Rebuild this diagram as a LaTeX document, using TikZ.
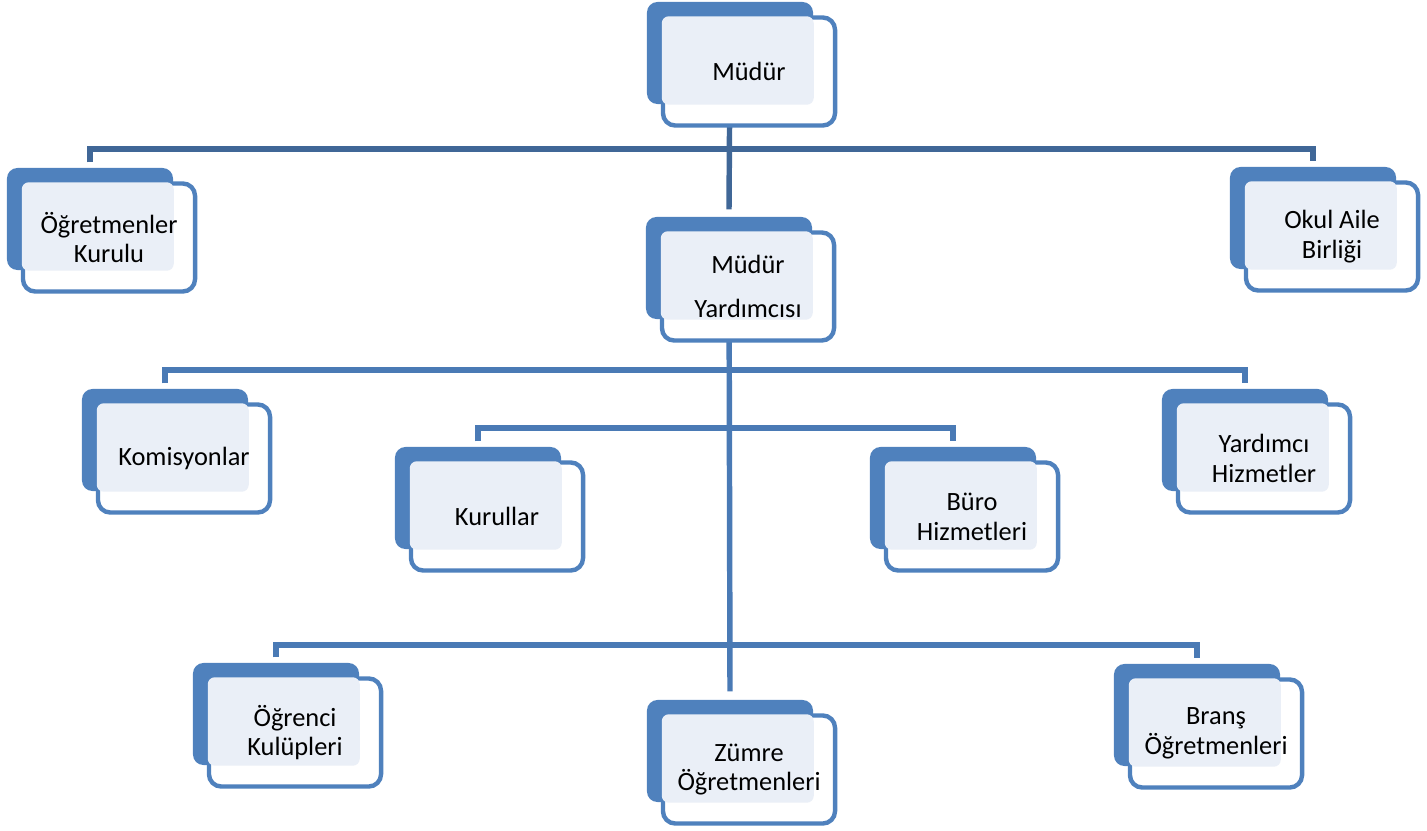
\documentclass[tikz,border=0pt]{standalone}
\usepackage{fontspec}
\setmainfont{Carlito}
\usetikzlibrary{calc}
\usetikzlibrary{positioning}
\usetikzlibrary{backgrounds}
\definecolor{boxblue}{RGB}{79, 129, 189}
\definecolor{lightfill}{RGB}{234, 239, 247}
\definecolor{topblue}{RGB}{64, 103, 151}
\definecolor{lowblue}{RGB}{74, 122, 181}

\tikzset{
  backbox/.style={fill=boxblue, rounded corners=3pt, minimum width=1.66cm,
                  minimum height=1.02cm, inner sep=0pt},
  frontbox/.style={draw=boxblue, fill=white, line width=1.25pt, rounded corners=3.5pt,
                   minimum width=1.72cm, minimum height=1.08cm, inner sep=0pt},
  boxtext/.style={align=center, font=\fontsize{7.5}{8.5}\selectfont, inner sep=0pt},
  topwire/.style={draw=topblue, line width=1.55pt},
  lowwire/.style={draw=lowblue, line width=1.55pt}
}

\begin{document}
\begin{tikzpicture}[x=0.01cm, y=-0.01cm]

        \useasboundingbox (0,0) rectangle (1427,830);

        % top level
        \node[backbox] (mudurB) at (730, 53) {};
        \node[frontbox] (mudur) at ($(mudurB.center)+(19,18.5)$) {};
        \fill[lightfill, rounded corners=2pt] ($(mudur.north west)+(1,1)$) rectangle (mudurB.south east);
        \node[boxtext] (mudurT) at (mudur.center) {Müdür};

        \node[backbox] (ogretB) at (90, 219) {};
        \node[frontbox] (ogret) at ($(ogretB.center)+(19,18.5)$) {};
        \fill[lightfill, rounded corners=2pt] ($(ogret.north west)+(1,1)$) rectangle (ogretB.south east);
        \node[boxtext] (ogretT) at (ogret.center) {Öğretmenler\\Kurulu};

        \node[backbox] (okulB) at (1313, 218) {};
        \node[frontbox] (okul) at ($(okulB.center)+(19,18.5)$) {};
        \fill[lightfill, rounded corners=2pt] ($(okul.north west)+(1,1)$) rectangle (okulB.south east);
        \node[boxtext] (okulT) at (okul.center) {Okul Aile\\Birliği};

        \node[backbox] (yardB) at (729, 268) {};
        \node[frontbox] (yard) at ($(yardB.center)+(19,18.5)$) {};
        \fill[lightfill, rounded corners=2pt] ($(yard.north west)+(1,1)$) rectangle (yardB.south east);
        \node[boxtext] (yardT) at (yard.center) {Müdür\\[4pt]Yardımcısı};

        % middle level
        \node[backbox] (komisB) at (165, 440) {};
        \node[frontbox] (komis) at ($(komisB.center)+(19,18.5)$) {};
        \fill[lightfill, rounded corners=2pt] ($(komis.north west)+(1,1)$) rectangle (komisB.south east);
        \node[boxtext] (komisT) at (komis.center) {Komisyonlar};

        \node[backbox] (kurulB) at (478, 498) {};
        \node[frontbox] (kurul) at ($(kurulB.center)+(19,18.5)$) {};
        \fill[lightfill, rounded corners=2pt] ($(kurul.north west)+(1,1)$) rectangle (kurulB.south east);
        \node[boxtext] (kurulT) at (kurul.center) {Kurullar};

        \node[backbox] (buroB) at (953, 498) {};
        \node[frontbox] (buro) at ($(buroB.center)+(19,18.5)$) {};
        \fill[lightfill, rounded corners=2pt] ($(buro.north west)+(1,1)$) rectangle (buroB.south east);
        \node[boxtext] (buroT) at (buro.center) {Büro\\Hizmetleri};

        \node[backbox] (yhizB) at (1245, 440) {};
        \node[frontbox] (yhiz) at ($(yhizB.center)+(19,18.5)$) {};
        \fill[lightfill, rounded corners=2pt] ($(yhiz.north west)+(1,1)$) rectangle (yhizB.south east);
        \node[boxtext] (yhizT) at (yhiz.center) {Yardımcı\\Hizmetler};

        % bottom level
        \node[backbox] (kulupB) at (276, 714) {};
        \node[frontbox] (kulup) at ($(kulupB.center)+(19,18.5)$) {};
        \fill[lightfill, rounded corners=2pt] ($(kulup.north west)+(1,1)$) rectangle (kulupB.south east);
        \node[boxtext] (kulupT) at (kulup.center) {Öğrenci\\Kulüpleri};

        \node[backbox] (zumreB) at (730, 751) {};
        \node[frontbox] (zumre) at ($(zumreB.center)+(19,18.5)$) {};
        \fill[lightfill, rounded corners=2pt] ($(zumre.north west)+(1,1)$) rectangle (zumreB.south east);
        \node[boxtext] (zumreT) at (zumre.center) {Zümre\\Öğretmenleri};

        \node[backbox] (bransB) at (1197, 715) {};
        \node[frontbox] (brans) at ($(bransB.center)+(19,18.5)$) {};
        \fill[lightfill, rounded corners=2pt] ($(brans.north west)+(1,1)$) rectangle (bransB.south east);
        \node[boxtext] (bransT) at (brans.center) {Branş\\Öğretmenleri};

        % connectors
        \coordinate (bus1) at (0, 149);
        \coordinate (bus2) at (0, 370);
        \coordinate (bus3) at (0, 428);
        \coordinate (bus4) at (0, 645);

        \begin{scope}[on background layer]
        \draw[topwire] ($(ogretB.north)+(0,-5)$) |- (bus1 -| okulB.north) -- ($(okulB.north)+(0,-5)$);
        \draw[topwire] (mudurB.center) -- ($(yardB.north)+(0,-7)$);
        \draw[lowwire] (yardB.center) -- ($(zumreB.north)+(0,-8)$);
        \draw[lowwire] ($(komisB.north)+(0,-5)$) |- (bus2 -| yhizB.north) -- ($(yhizB.north)+(0,-5)$);
        \draw[lowwire] ($(kurulB.north)+(0,-5)$) |- (bus3 -| buroB.north) -- ($(buroB.north)+(0,-5)$);
        \draw[lowwire] ($(kulupB.north)+(0,-5)$) |- (bus4 -| bransB.north) -- ($(bransB.north)+(0,-5)$);
        \end{scope}

\end{tikzpicture}
\end{document}
